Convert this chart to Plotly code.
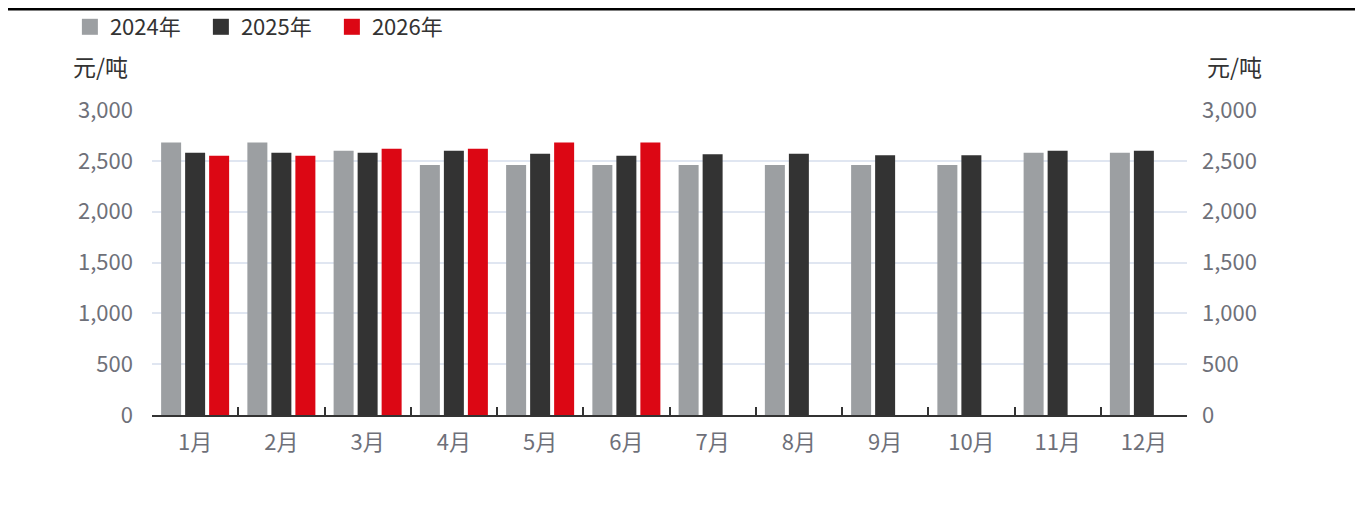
import plotly.graph_objects as go

months = ["1月", "2月", "3月", "4月", "5月", "6月", "7月", "8月", "9月", "10月", "11月", "12月"]
series_names = ["2024年", "2025年", "2026年"]
v2024 = [2680, 2680, 2600, 2460, 2460, 2460, 2460, 2460, 2460, 2460, 2580, 2580]
v2025 = [2580, 2580, 2580, 2600, 2570, 2550, 2565, 2570, 2555, 2555, 2600, 2600]
v2026 = [2550, 2550, 2620, 2620, 2680, 2680]
colors = ["#9c9fa2", "#333333", "#dc0714"]
ytick_vals = [0, 500, 1000, 1500, 2000, 2500, 3000]

FONT = "Noto Sans CJK SC, Microsoft YaHei, sans-serif"
fig = go.Figure()
for name, vals, c in zip(series_names, [v2024, v2025, v2026], colors):
    fig.add_trace(go.Bar(x=months[:len(vals)], y=vals, name=name, marker_color=c,
                         marker_line_width=0, showlegend=False, legendgroup=name))
for name, c in zip(series_names, colors):
    fig.add_trace(go.Scatter(x=[None], y=[None], mode="markers", name=name, legendgroup=name,
                             marker=dict(symbol="square", size=18, color=c), showlegend=True))

fig.update_layout(
    width=1363, height=505,
    margin=dict(l=144, r=184, t=102, b=98),
    paper_bgcolor="white", plot_bgcolor="white",
    barmode="group", bargap=0.165, bargroupgap=0.167,
    font=dict(family=FONT, size=22, color="#6e7079"),
    legend=dict(orientation="h", xref="container", yref="container", x=0.0454, y=1 - 19/505,
                xanchor="left", yanchor="middle", font=dict(size=22, color="#333333"),
                itemsizing="trace", bgcolor="rgba(0,0,0,0)", tracegroupgap=0,
                entrywidth=86, entrywidthmode="pixels"),
    xaxis=dict(categoryorder="array", categoryarray=months, range=[-0.5, 11.5],
               showline=True, linecolor="#333333", linewidth=2,
               ticks="inside", tickcolor="#333333", ticklen=8, tickwidth=1.5,
               tickmode="array", tickvals=[i - 0.5 for i in range(13)], ticktext=[""] * 13,
               showgrid=False),
    xaxis2=dict(overlaying="x", matches="x", range=[-0.5, 11.5], showline=False,
                tickmode="array", tickvals=list(range(12)), ticktext=months, ticks="",
                side="bottom", anchor="y", showgrid=False, ticklabelstandoff=12,
                tickfont=dict(size=22, color="#6e7079")),
    yaxis=dict(range=[0, 3000], tickvals=ytick_vals, tickformat=",", showline=False,
               gridcolor="#e0e6f1", gridwidth=1.5, zeroline=False, ticks="",
               ticklabelstandoff=18, tickfont=dict(size=22, color="#6e7079")),
    yaxis2=dict(range=[0, 3000], tickvals=ytick_vals, tickformat=",", overlaying="y",
                side="right", showgrid=False, zeroline=False, showline=False, ticks="",
                ticklabelstandoff=14, tickfont=dict(size=22, color="#6e7079")),
    shapes=[dict(type="line", xref="paper", yref="paper", x0=-147/1035, x1=1207/1035,
                 y0=1 + 101/305, y1=1 + 101/305, line=dict(color="black", width=3))],
    annotations=[
        dict(text="元/吨", xref="paper", yref="paper", x=-22/1035, y=1 + 44/305,
             xanchor="right", yanchor="middle", showarrow=False,
             font=dict(size=23, color="#333333")),
        dict(text="元/吨", xref="paper", yref="paper", x=1 + 18/1035, y=1 + 44/305,
             xanchor="left", yanchor="middle", showarrow=False,
             font=dict(size=23, color="#333333")),
    ],
)
# invisible trace so secondary axes render
fig.add_trace(go.Scatter(x=[months[0]], y=[0], xaxis="x2", yaxis="y2", mode="markers",
                         marker=dict(opacity=0), showlegend=False, hoverinfo="skip"))
fig.write_html("out.html")
